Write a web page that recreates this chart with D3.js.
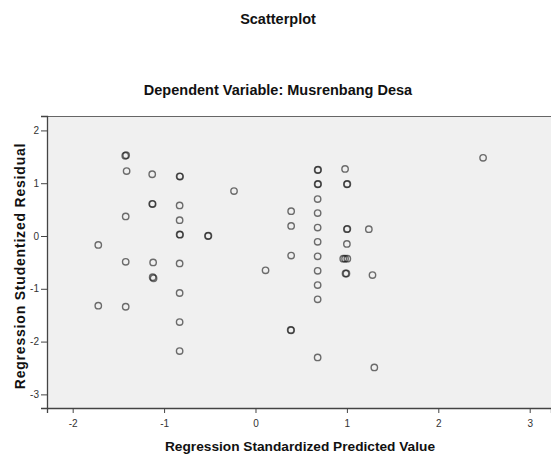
<!DOCTYPE html>
<html>
<head>
<meta charset="utf-8">
<script src="https://cdn.jsdelivr.net/npm/d3@7"></script>
<style>
  body { margin: 0; background: #fff; }
  text { font-family: "Liberation Sans", Arial, sans-serif; }
</style>
</head>
<body>
<svg id="chart" width="551" height="455"></svg>
<script>
// ---- data ----
const predicted = [
  -1.72, -1.72, -1.425, -1.415, -1.41, -1.42, -1.42, -1.42,
  -1.13, -1.13, -1.125, -1.12, -1.125, -1.115,
  -0.83, -0.825, -0.83, -0.83, -0.83, -0.825, -0.83, -0.83, -0.83, -0.83,
  -0.52, -0.515, -0.235, 0.11,
  0.39, 0.39, 0.39, 0.385, 0.39,
  0.68, 0.685, 0.68, 0.685, 0.68, 0.68, 0.68, 0.68, 0.68, 0.68, 0.68, 0.68, 0.68,
  0.98, 1.0, 1.005, 1.0, 1.005, 1.24, 1.0,
  0.96, 0.98, 1.005, 0.985, 0.995, 1.28, 1.30, 2.49
];
const residual = [
  -0.17, -1.32, 1.52, 1.53, 1.23, 0.37, -0.49, -1.34,
  1.17, 0.61, 0.605, -0.50, -0.78, -0.80,
  1.13, 1.125, 0.58, 0.30, 0.03, 0.025, -0.52, -1.08, -1.63, -2.18,
  0.00, 0.005, 0.85, -0.65,
  0.47, 0.19, -0.37, -1.78, -1.785,
  1.25, 1.255, 0.98, 0.985, 0.70, 0.435, 0.16, -0.11, -0.385, -0.66, -0.93, -1.20, -2.30,
  1.27, 0.98, 0.985, 0.13, 0.135, 0.13, -0.15,
  -0.43, -0.43, -0.43, -0.71, -0.71, -0.74, -2.49, 1.48
];
const xTicks = [-2, -1, 0, 1, 2, 3];
const yTicks = [-3, -2, -1, 0, 1, 2];
const xDomain = [-2.281, 3.233];
const yDomain = [-3.258, 2.273];
const chartTitle = "Scatterplot";
const chartSubtitle = "Dependent Variable: Musrenbang Desa";
const xTitle = "Regression Standardized Predicted Value";
const yTitle = "Regression Studentized Residual";

// ---- layout ----
const W = 551, H = 455;
const plot = { left: 47, top: 116, right: 551, bottom: 408 };

const svg = d3.select("#chart");

const x = d3.scaleLinear().domain(xDomain).range([plot.left, plot.right]);
const y = d3.scaleLinear().domain(yDomain).range([plot.bottom, plot.top]);

// plot background
svg.append("rect")
  .attr("x", plot.left).attr("y", plot.top)
  .attr("width", plot.right - plot.left)
  .attr("height", plot.bottom - plot.top)
  .attr("fill", "#f0f0f0");

// top frame line
svg.append("line")
  .attr("x1", plot.left).attr("x2", plot.right)
  .attr("y1", plot.top + 0.5).attr("y2", plot.top + 0.5)
  .attr("stroke", "#666").attr("stroke-width", 1.2);

const fmt = d => String(d);

// axes
const xAxis = svg.append("g")
  .attr("transform", `translate(0,${plot.bottom})`)
  .call(d3.axisBottom(x).tickValues(xTicks).tickFormat(fmt).tickSizeOuter(0).tickSize(5).tickPadding(6.5));
const yAxis = svg.append("g")
  .attr("transform", `translate(${plot.left},0)`)
  .call(d3.axisLeft(y).tickValues(yTicks).tickFormat(fmt).tickSizeOuter(0).tickSize(6).tickPadding(2));

[xAxis, yAxis].forEach(g => {
  g.select(".domain").attr("stroke", "#444").attr("stroke-width", 1.3);
  g.selectAll(".tick line").attr("stroke", "#444");
  g.selectAll(".tick text")
    .attr("fill", "#333")
    .style("font-size", "10px")
    .style("font-family", "'Liberation Sans', Arial, sans-serif");
});

// points
const pts = predicted.map((p, i) => ({ p, r: residual[i] }));
svg.append("g")
  .selectAll("circle")
  .data(pts)
  .join("circle")
  .attr("cx", d => x(d.p))
  .attr("cy", d => y(d.r))
  .attr("r", 3.2)
  .attr("fill", "none")
  .attr("stroke", "#1a1a1a")
  .attr("stroke-opacity", 0.62)
  .attr("stroke-width", 1.4);

// titles
svg.append("text")
  .attr("x", 278).attr("y", 24)
  .attr("text-anchor", "middle")
  .style("font-size", "14.5px").style("font-weight", "bold")
  .attr("fill", "#111")
  .text(chartTitle);

svg.append("text")
  .attr("x", 278).attr("y", 95)
  .attr("text-anchor", "middle")
  .style("font-size", "14.5px").style("font-weight", "bold")
  .attr("fill", "#111")
  .text(chartSubtitle);

svg.append("text")
  .attr("x", 300).attr("y", 451)
  .attr("text-anchor", "middle")
  .style("font-size", "13.7px").style("font-weight", "bold")
  .attr("fill", "#111")
  .text(xTitle);

svg.append("text")
  .attr("transform", `translate(25,266) rotate(-90)`)
  .attr("text-anchor", "middle")
  .style("font-size", "14px").style("font-weight", "bold")
  .style("letter-spacing", "0.8px")
  .attr("fill", "#111")
  .text(yTitle);
</script>
</body>
</html>
